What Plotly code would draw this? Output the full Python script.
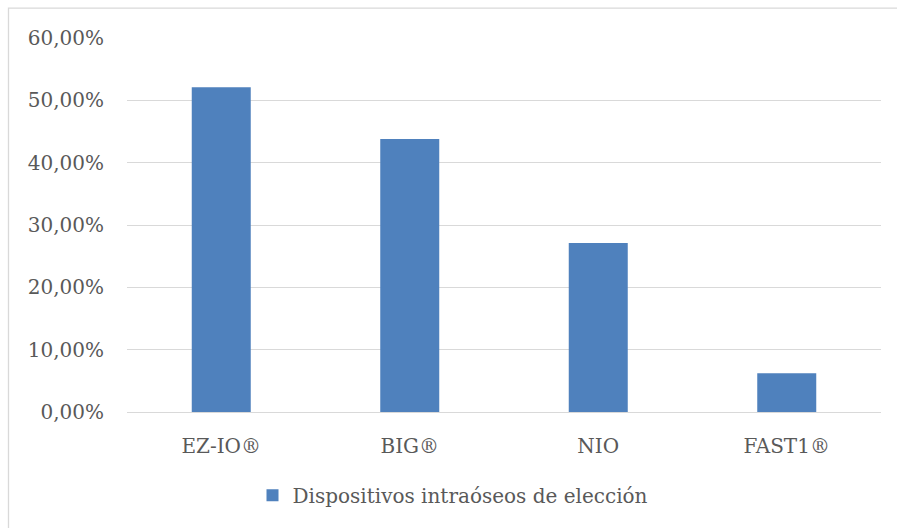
import plotly.graph_objects as go

categories = ["EZ-IO®", "BIG®", "NIO", "FAST1®"]
values = [0.521, 0.438, 0.271, 0.062]
series_name = "Dispositivos intraóseos de elección"
y_ticks = [0, 0.1, 0.2, 0.3, 0.4, 0.5, 0.6]

W, H = 897, 528
L, R, T, B = 127, 881, 37.5, 412.5

def px(x):
    return (x - L) / (R - L)

def py(y):
    return (B - y) / (B - T)

font_family = "DejaVu Serif"
gray = "#595959"
fs = 20

fig = go.Figure()
fig.add_trace(go.Bar(
    x=categories, y=values, name=series_name,
    marker=dict(color="#4f81bd", line=dict(width=0)),
    showlegend=True,
))

fig.update_layout(
    width=W, height=H,
    margin=dict(l=L, r=W - R, t=T, b=H - B, pad=0),
    paper_bgcolor="white", plot_bgcolor="white",
    separators=",.",
    bargap=0.687,
    font=dict(family=font_family, color=gray, size=fs),
    showlegend=True,
    legend=dict(orientation="h", x=px(453), xanchor="center", y=py(496), yanchor="middle",
                font=dict(size=fs, color=gray), itemwidth=30, traceorder="normal"),
    xaxis=dict(showgrid=False, showline=False, ticks="outside", ticklen=16,
               tickcolor="rgba(0,0,0,0)", tickfont=dict(size=fs, color=gray)),
    yaxis=dict(range=[0, 0.6], tickvals=y_ticks, tickformat=".2%",
               showgrid=True, gridcolor="#d9d9d9", gridwidth=1.3,
               zeroline=True, zerolinecolor="#d9d9d9", zerolinewidth=1.3,
               showline=False, ticks="outside", ticklen=18, tickcolor="rgba(0,0,0,0)",
               tickfont=dict(size=fs, color=gray)),
    shapes=[dict(type="rect", xref="paper", yref="paper",
                 x0=px(8.5), x1=px(960), y0=py(600), y1=py(7.5),
                 line=dict(color="#d9d9d9", width=1.3), fillcolor="rgba(0,0,0,0)",
                 layer="below")],
)

fig.write_html("out.html")
